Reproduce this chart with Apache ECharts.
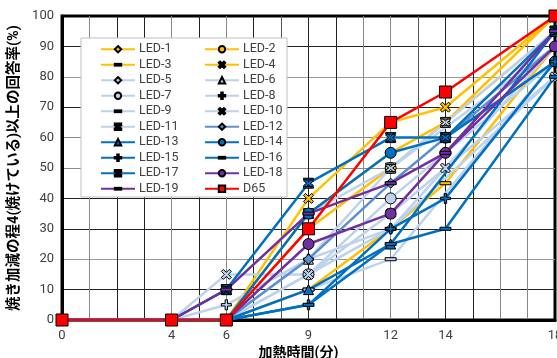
<!DOCTYPE html>
<html>
<head>
<meta charset="utf-8">
<script src="https://cdn.jsdelivr.net/npm/echarts@6/dist/echarts.min.js"></script>
<style>
  html, body { margin: 0; padding: 0; background: #fff; }
  #chart { width: 557px; height: 358px; }
</style>
</head>
<body>
<div id="chart"></div>
<script>
// heating time (min) where answers were collected
const xValues = [0, 4, 6, 9, 12, 14, 18];
const xTickLabels = [0, 4, 6, 9, 12, 14, 18];

const seriesNames = [
  'LED-1', 'LED-2', 'LED-3', 'LED-4', 'LED-5', 'LED-6', 'LED-7', 'LED-8',
  'LED-9', 'LED-10', 'LED-11', 'LED-12', 'LED-13', 'LED-14', 'LED-15',
  'LED-16', 'LED-17', 'LED-18', 'LED-19', 'D65'
];

// rate (%) of answers >= 4, null = not measured at that time
const led1  = [0, 0, 0, 35, 55, 65, 100];
const led2  = [0, 0, 0, 30, 50, null, 95];
const led3  = [0, 0, 0, 10, 30, 45, 90];
const led4  = [0, 0, 0, 40, 65, 70, 100];
const led5  = [0, 0, 0, 15, 30, null, 80];
const led6  = [0, 0, 0, 20, 50, null, 90];
const led7  = [0, 0, 0, 15, 40, null, 85];
const led8  = [0, 0, 5, 20, 30, null, 90];
const led9  = [0, 0, 0, 10, 20, null, 85];
const led10 = [0, 0, 15, 15, 35, 50, 80];
const led11 = [0, 0, 10, 35, 50, 65, 95];
const led12 = [0, 0, 0, 20, 45, null, 90];
const led13 = [0, 0, 0, 10, 25, null, 95];
const led14 = [0, 0, 0, 35, 55, 60, 85];
const led15 = [0, 0, 0, 5, 30, 40, 85];
const led16 = [0, 0, 0, 5, 25, 30, 80];
const led17 = [0, 0, 10, 45, 60, 60, 95];
const led18 = [0, 0, 0, 25, 35, 55, 90];
const led19 = [0, 0, 10, 35, 45, 55, 95];
const d65   = [0, 0, 0, 30, 65, 75, 100];

const seriesValues = [led1, led2, led3, led4, led5, led6, led7, led8, led9, led10,
  led11, led12, led13, led14, led15, led16, led17, led18, led19, d65];

// styles
const ORANGE = '#FFC000', LIGHT = '#BDD2EC', MID = '#5B8FD0', BLUE = '#0070C0',
  PURPLE = '#7030A0', RED = '#FF0000';
const seriesColors = [ORANGE, ORANGE, ORANGE, ORANGE, LIGHT, LIGHT, LIGHT, LIGHT, LIGHT,
  LIGHT, LIGHT, MID, BLUE, BLUE, BLUE, BLUE, BLUE, PURPLE, PURPLE, RED];

const SYM = {
  diamond: 'diamond',
  circle: 'circle',
  tri: 'triangle',
  square: 'rect',
  dash: 'path://M0,0M0,10M0,3.6H10V6.4H0Z',
  cross: 'path://M0,2L2,0L5,3L8,0L10,2L7,5L10,8L8,10L5,7L2,10L0,8L3,5Z',
  plus: 'path://M3.8,0H6.2V3.8H10V6.2H6.2V10H3.8V6.2H0V3.8H3.8Z',
  star: 'path://M0,0H10V1.6H0ZM0,8.4H10V10H0ZM0,2.6L2,0.8L5,3.6L8,0.8L10,2.6L7,5L10,7.4L8,9.2L5,6.4L2,9.2L0,7.4L3,5Z'
};
const seriesSymbols = ['diamond', 'circle', 'dash', 'cross', 'diamond', 'tri', 'circle', 'plus',
  'dash', 'cross', 'star', 'diamond', 'tri', 'circle', 'plus', 'dash', 'star', 'circle', 'dash', 'square'];
const symbolSizes = { diamond: 10, circle: 11, tri: 10, square: 12, dash: 11, cross: 10, plus: 10, star: 10 };

const FONT = 'Roboto, "Noto Sans CJK JP", sans-serif';
const xGridColors = ['#000', '#888', '#222', '#222', '#888', '#222', '#888', '#222', '#555',
  '#222', '#222', '#888', '#888', '#555', '#222', '#222', '#888', '#888', '#000'];
const yGridColors = ['#000', '#222', '#999', '#222', '#222', '#888', '#888', '#222', '#999', '#222', '#000'];

const series = seriesNames.map((name, i) => {
  const vals = seriesValues[i];
  const data = xValues.map((x, k) => (vals[k] == null ? null : [x, vals[k]])).filter(Boolean);
  return {
    name: name,
    type: 'line',
    data: data,
    symbol: SYM[seriesSymbols[i]],
    symbolSize: symbolSizes[seriesSymbols[i]],
    showAllSymbol: true,
    lineStyle: { color: seriesColors[i], width: 2.5 },
    itemStyle: { color: seriesColors[i], borderColor: '#000', borderWidth: 1 },
    emphasis: { disabled: true },
    animation: false,
    z: 2
  };
});

const legendBase = {
  orient: 'vertical',
  top: 38,
  itemWidth: 34,
  itemHeight: 8,
  itemGap: 3,
  textStyle: { fontSize: 12.5, color: '#404040', fontFamily: FONT, padding: [0, 0, 0, -1] },
  selectedMode: false
};

const chart = echarts.init(document.getElementById('chart'));
chart.setOption({
  animation: false,
  grid: {
    left: 62, right: 2, top: 16, bottom: 38,
    outerBoundsMode: 'none',
    containLabel: false,
    show: true, borderColor: '#000', borderWidth: 3
  },
  xAxis: {
    type: 'value',
    min: 0, max: 18, interval: 1,
    name: '加熱時間(分)',
    nameLocation: 'middle',
    nameGap: 26,
    nameTextStyle: { fontSize: 14, fontWeight: 'bold', color: '#000', fontFamily: FONT, padding: [0, 20, 0, 0] },
    axisLine: { show: true, lineStyle: { color: '#000', width: 3 } },
    axisTick: { show: false },
    axisLabel: {
      interval: 0, fontSize: 13, color: '#404040', fontFamily: FONT, margin: 9,
      formatter: v => (xTickLabels.includes(v) ? String(v) : '')
    },
    splitLine: { show: true, lineStyle: { color: xGridColors, width: 1 } }
  },
  yAxis: {
    type: 'value',
    min: 0, max: 100, interval: 10,
    name: '焼き加減の程4(焼けている)以上の回答率(%)',
    nameLocation: 'middle',
    nameGap: 40,
    nameTextStyle: { fontSize: 14.5, fontWeight: 'bold', color: '#000', fontFamily: FONT },
    axisLine: { show: true, lineStyle: { color: '#000', width: 3 } },
    axisTick: { show: false },
    axisLabel: { fontSize: 13, color: '#404040', fontFamily: FONT, margin: 8 },
    splitLine: { show: true, lineStyle: { color: yGridColors, width: 1 } }
  },
  graphic: [{
    type: 'rect',
    z: 3,
    shape: { x: 81, y: 38, width: 206, height: 159 },
    style: { fill: '#fff', stroke: '#bfbfbf', lineWidth: 1 }
  }],
  legend: [
    Object.assign({}, legendBase, { left: 95, data: seriesNames.filter((n, i) => i % 2 === 0) }),
    Object.assign({}, legendBase, { left: 199, data: seriesNames.filter((n, i) => i % 2 === 1) })
  ],
  series: series
});
</script>
</body>
</html>
